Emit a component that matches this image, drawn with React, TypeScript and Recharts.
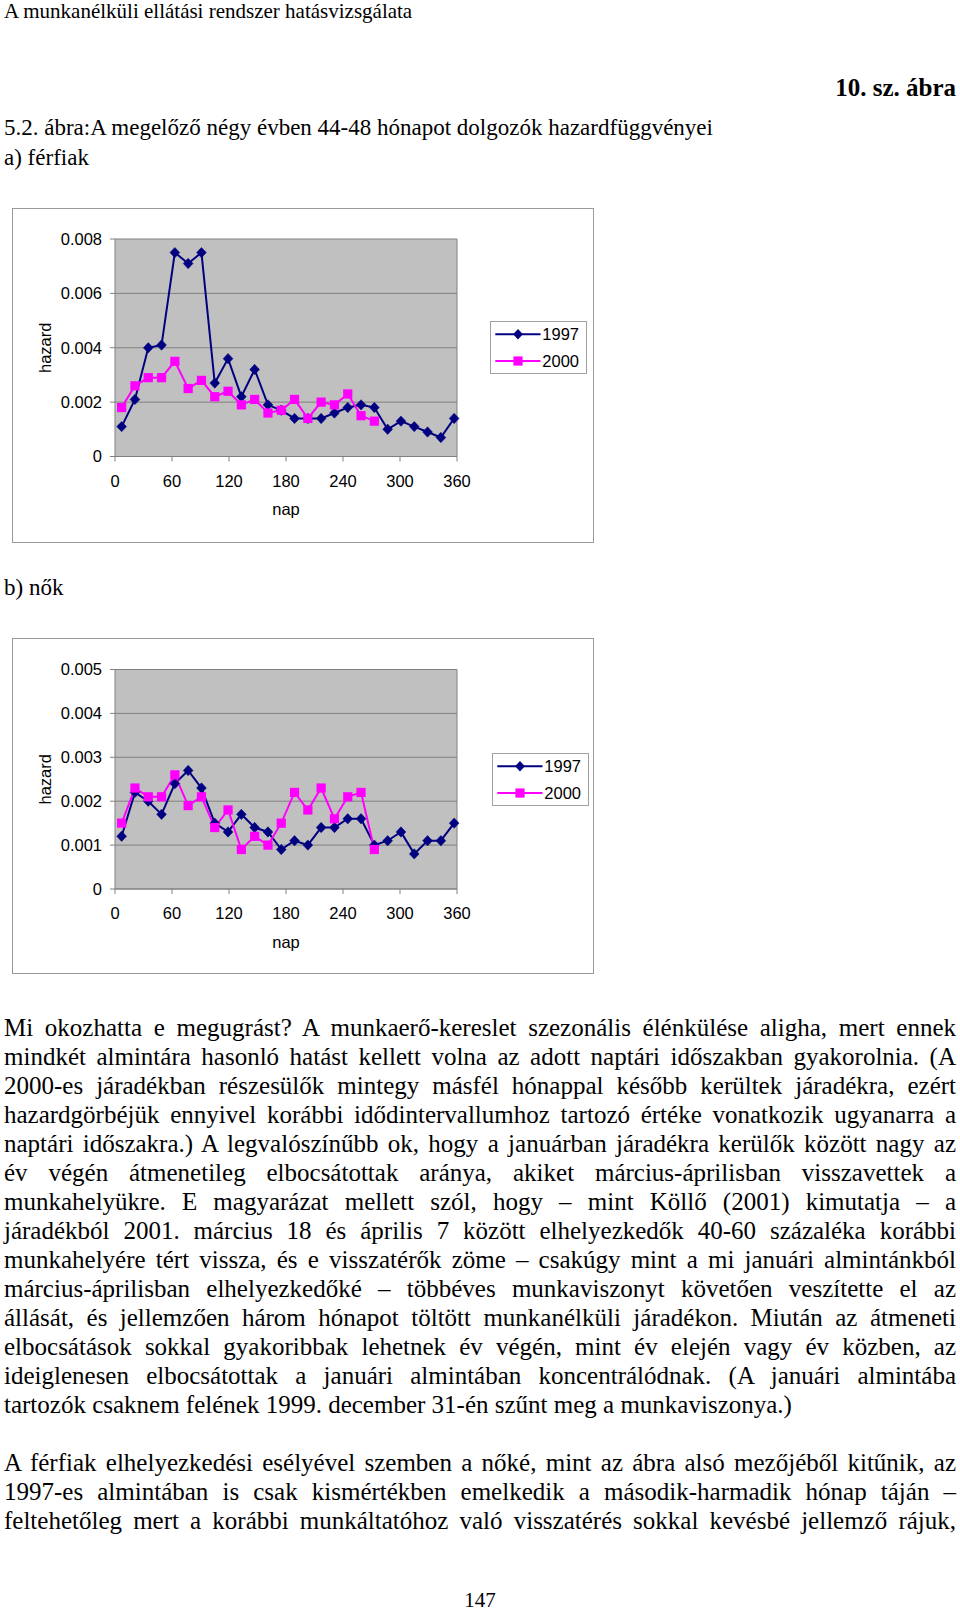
import React from 'react';
import { LineChart, Line, XAxis, YAxis, CartesianGrid, ReferenceLine, Legend, Label } from 'recharts';

// ---------- data ----------
const days = [7, 21, 35, 49, 63, 77, 91, 105, 119, 133, 147, 161, 175, 189, 203, 217, 231, 245, 259, 273, 287, 301, 315, 329, 343, 357];
const xTicks = [0, 60, 120, 180, 240, 300, 360];
const menTicks = [0, 0.002, 0.004, 0.006, 0.008];
const womenTicks = [0, 0.001, 0.002, 0.003, 0.004, 0.005];
const seriesNames = ['1997', '2000'];

const men1997 = [0.0011, 0.0021, 0.0040, 0.0041, 0.0075, 0.0071, 0.0075, 0.0027, 0.0036, 0.0022, 0.0032, 0.0019, 0.0017, 0.0014, 0.0014, 0.0014, 0.0016, 0.0018, 0.0019, 0.0018, 0.0010, 0.0013, 0.0011, 0.0009, 0.0007, 0.0014];
const men2000 = [0.0018, 0.0026, 0.0029, 0.0029, 0.0035, 0.0025, 0.0028, 0.0022, 0.0024, 0.0019, 0.0021, 0.0016, 0.0017, 0.0021, 0.0014, 0.0020, 0.0019, 0.0023, 0.0015, 0.0013];
const women1997 = [0.0012, 0.0022, 0.0020, 0.0017, 0.0024, 0.0027, 0.0023, 0.0015, 0.0013, 0.0017, 0.0014, 0.0013, 0.0009, 0.0011, 0.0010, 0.0014, 0.0014, 0.0016, 0.0016, 0.0010, 0.0011, 0.0013, 0.0008, 0.0011, 0.0011, 0.0015];
const women2000 = [0.0015, 0.0023, 0.0021, 0.0021, 0.0026, 0.0019, 0.0021, 0.0014, 0.0018, 0.0009, 0.0012, 0.0010, 0.0015, 0.0022, 0.0018, 0.0023, 0.0016, 0.0021, 0.0022, 0.0009];

// ---------- text ----------
const headerText = 'A munkanélküli ellátási rendszer hatásvizsgálata';
const figNoText = '10. sz. ábra';
const titleText = '5.2. ábra:A megelőző négy évben 44-48 hónapot dolgozók hazardfüggvényei';
const menLabel = 'a) férfiak';
const womenLabel = 'b) nők';
const xAxisName = 'nap';
const yAxisName = 'hazard';
const para1 = [
  'Mi okozhatta e megugrást? A munkaerő-kereslet szezonális élénkülése aligha, mert ennek',
  'mindkét almintára hasonló hatást kellett volna az adott naptári időszakban gyakorolnia. (A',
  '2000-es járadékban részesülők mintegy másfél hónappal később kerültek járadékra, ezért',
  'hazardgörbéjük ennyivel korábbi idődintervallumhoz tartozó értéke vonatkozik ugyanarra a',
  'naptári időszakra.) A legvalószínűbb ok, hogy a januárban járadékra kerülők között nagy az',
  'év végén átmenetileg elbocsátottak aránya, akiket március-áprilisban visszavettek a',
  'munkahelyükre. E magyarázat mellett szól, hogy – mint Köllő (2001) kimutatja – a',
  'járadékból 2001. március 18 és április 7 között elhelyezkedők 40-60 százaléka korábbi',
  'munkahelyére tért vissza, és e visszatérők zöme – csakúgy mint a mi januári almintánkból',
  'március-áprilisban elhelyezkedőké – többéves munkaviszonyt követően veszítette el az',
  'állását, és jellemzően három hónapot töltött munkanélküli járadékon. Miután az átmeneti',
  'elbocsátások sokkal gyakoribbak lehetnek év végén, mint év elején vagy év közben, az',
  'ideiglenesen elbocsátottak a januári almintában koncentrálódnak. (A januári almintába',
  'tartozók csaknem felének 1999. december 31-én szűnt meg a munkaviszonya.)',
];
const para2 = [
  'A férfiak elhelyezkedési esélyével szemben a nőké, mint az ábra alsó mezőjéből kitűnik, az',
  '1997-es almintában is csak kismértékben emelkedik a második-harmadik hónap táján –',
  'feltehetőleg mert a korábbi munkáltatóhoz való visszatérés sokkal kevésbé jellemző rájuk,',
];
const pageNo = '147';

// ---------- styles ----------
const SERIF = "'Liberation Serif', 'Times New Roman', Times, serif";
const SANS = "'Liberation Sans', Arial, Helvetica, sans-serif";
const C1997 = '#000080';
const C2000 = '#ff00ff';
const GRID = '#808080';
const FS = 16.5;

const buildRows = (a: number[], b: number[]) =>
  days.map((d, i) => ({ day: d, y1997: a[i] ?? null, y2000: i < b.length ? b[i] : null }));

const menRows = buildRows(men1997, men2000);
const womenRows = buildRows(women1997, women2000);

const fmt = (v: number) => (v === 0 ? '0' : v.toFixed(3));

const Diamond = (props: any) => {
  const { cx, cy, index } = props;
  if (cx == null || cy == null || props.value == null) return <g key={`dm${index}`} />;
  return (
    <path
      key={`dm${index}`}
      d={`M${cx},${cy - 5.2}L${cx + 4.9},${cy}L${cx},${cy + 5.2}L${cx - 4.9},${cy}Z`}
      fill={C1997}
      stroke={C1997}
      strokeWidth={0.5}
    />
  );
};

const Square = (props: any) => {
  const { cx, cy, index } = props;
  if (cx == null || cy == null || props.value == null) return <g key={`sq${index}`} />;
  return <rect key={`sq${index}`} x={cx - 4.6} y={cy - 4.6} width={9.2} height={9.2} fill={C2000} />;
};

const HazardLabel = (props: any) => {
  const vb = props.viewBox || { x: 0, y: 0, width: 0, height: 0 };
  const x = vb.x + 38;
  const y = vb.y + vb.height / 2;
  return (
    <text x={x} y={y} transform={`rotate(-90 ${x} ${y})`} textAnchor="middle" fontSize={FS} fill="#000">
      {yAxisName}
    </text>
  );
};

const NapLabel = (props: any) => {
  const vb = props.viewBox || { x: 0, y: 0, width: 0, height: 0 };
  return (
    <text x={vb.x + vb.width / 2} y={vb.y + 58.5} textAnchor="middle" fontSize={FS} fill="#000">
      {xAxisName}
    </text>
  );
};

const LegendBox = (props: any) => {
  const payload = props.payload || [];
  const rowsY = [12.3, 39];
  return (
    <div style={{ width: 97, height: 53, boxSizing: 'border-box', border: '1px solid #a0a0a0', background: '#fff' }}>
      <svg width={95} height={51} style={{ display: 'block', fontFamily: SANS }}>
        {payload.map((p: any, i: number) => {
          const y = rowsY[i];
          const color = p.color;
          return (
            <g key={`lg${i}`}>
              <line x1={4.3} x2={49.5} y1={y} y2={y} stroke={color} strokeWidth={2} />
              {i === 0 ? (
                <path d={`M27,${y - 5.2}L31.9,${y}L27,${y + 5.2}L22.1,${y}Z`} fill={color} />
              ) : (
                <rect x={27 - 4.6} y={y - 4.6} width={9.2} height={9.2} fill={color} />
              )}
              <text x={51.3} y={y} dy="0.355em" fontSize={FS} fill="#000">
                {p.value}
              </text>
            </g>
          );
        })}
      </svg>
    </div>
  );
};

type ChartProps = {
  rows: any[];
  yTicks: number[];
  top: number;
  height: number;
  plotTop: number;
  xAxisH: number;
  legendPos: { left: number; top: number };
};

function HazardChart({ rows, yTicks, top, height, plotTop, xAxisH, legendPos }: ChartProps) {
  const innerW = 580;
  const innerH = height - 2;
  return (
    <div
      style={{
        position: 'absolute',
        left: 12,
        top,
        width: 582,
        height,
        boxSizing: 'border-box',
        border: '1px solid #9a9a9a',
        background: '#fff',
        fontFamily: SANS,
      }}
    >
      <LineChart width={innerW} height={innerH} data={rows} margin={{ top: plotTop, right: 136, bottom: 0, left: 0 }}>
        <CartesianGrid vertical={false} stroke={GRID} fill="#c0c0c0" fillOpacity={1} />
        <XAxis
          type="number"
          dataKey="day"
          domain={[0, 360]}
          ticks={xTicks}
          interval={0}
          height={xAxisH}
          tickSize={5}
          tickMargin={13.5}
          axisLine={{ stroke: GRID }}
          tickLine={{ stroke: GRID }}
          tick={{ fill: '#000', fontSize: FS }}
          label={<Label content={NapLabel} />}
        />
        <YAxis
          type="number"
          domain={[0, yTicks[yTicks.length - 1]]}
          ticks={yTicks}
          interval={0}
          width={102}
          tickSize={5}
          tickMargin={8}
          axisLine={{ stroke: GRID }}
          tickLine={{ stroke: GRID }}
          tick={{ fill: '#000', fontSize: FS }}
          tickFormatter={fmt}
          label={<Label content={HazardLabel} />}
        />
        <ReferenceLine x={360} stroke={GRID} />
        <Legend
          layout="vertical"
          align="center"
          verticalAlign="middle"
          content={<LegendBox />}
          wrapperStyle={{ left: legendPos.left, top: legendPos.top, width: 97, height: 53 }}
        />
        <Line
          type="linear"
          dataKey="y1997"
          name={seriesNames[0]}
          stroke={C1997}
          strokeWidth={2}
          dot={Diamond}
          activeDot={false}
          isAnimationActive={false}
        />
        <Line
          type="linear"
          dataKey="y2000"
          name={seriesNames[1]}
          stroke={C2000}
          strokeWidth={2}
          dot={Square}
          activeDot={false}
          isAnimationActive={false}
        />
      </LineChart>
    </div>
  );
}

// place text so that its baseline sits at `baseline` (Liberation Serif ascent metrics)
const TextLine = ({
  text,
  baseline,
  size,
  left = 4,
  width,
  align = 'left',
  justify = false,
  bold = false,
}: {
  text: string;
  baseline: number;
  size: number;
  left?: number;
  width?: number;
  align?: 'left' | 'right' | 'center';
  justify?: boolean;
  bold?: boolean;
}) => (
  <div
    style={{
      position: 'absolute',
      left,
      top: baseline - 0.8375 * size,
      width,
      fontFamily: SERIF,
      fontSize: size,
      lineHeight: `${size}px`,
      fontWeight: bold ? 700 : 400,
      whiteSpace: 'nowrap',
      textAlign: justify ? 'justify' : align,
      textAlignLast: justify ? 'justify' : align,
      color: '#000',
    }}
  >
    {text}
  </div>
);

export default function App() {
  const B0 = 1036;
  const LH = 28.97;
  return (
    <div style={{ position: 'absolute', left: 0, top: 0, width: 960, height: 1613, background: '#fff', overflow: 'hidden' }}>
      <TextLine text={headerText} baseline={19} size={21} left={4} />
      <TextLine text={figNoText} baseline={95.5} size={25} left={0} width={956} align="right" bold />
      <TextLine text={titleText} baseline={135.5} size={23} left={4} />
      <TextLine text={menLabel} baseline={165.5} size={23} left={4} />

      <HazardChart
        rows={menRows}
        yTicks={menTicks}
        top={208}
        height={335}
        plotTop={30}
        xAxisH={85.5}
        legendPos={{ left: 477, top: 112 }}
      />

      <TextLine text={womenLabel} baseline={595.5} size={23} left={4} />

      <HazardChart
        rows={womenRows}
        yTicks={womenTicks}
        top={638}
        height={336}
        plotTop={30.5}
        xAxisH={84}
        legendPos={{ left: 478.5, top: 113.5 }}
      />

      {para1.map((t, i) => (
        <TextLine
          key={`p1${i}`}
          text={t}
          baseline={B0 + LH * i}
          size={25}
          left={4}
          width={952}
          justify={i < para1.length - 1}
        />
      ))}
      {para2.map((t, i) => (
        <TextLine key={`p2${i}`} text={t} baseline={B0 + LH * (15 + i)} size={25} left={4} width={952} justify />
      ))}
      <TextLine text={pageNo} baseline={1607.5} size={21} left={0} width={960} align="center" />
    </div>
  );
}
